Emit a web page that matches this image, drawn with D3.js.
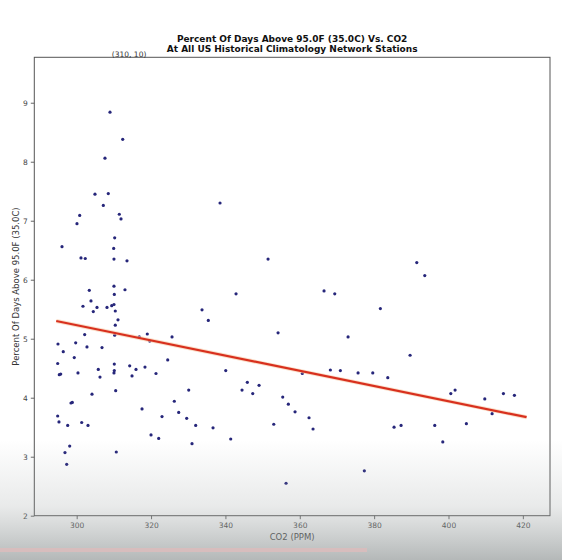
<!DOCTYPE html>
<html>
<head>
<meta charset="utf-8">
<script src="https://cdn.jsdelivr.net/npm/d3@7"></script>
<style>
  body { margin: 0; background: #fff; }
  svg { display: block; font-family: "DejaVu Sans", sans-serif; }
</style>
</head>
<body>
<svg id="chart" width="562" height="560"></svg>
<script>
// data
var co2 = [308.96, 312.38, 307.61, 304.92, 308.50, 307.16, 300.81, 300.08, 311.46, 311.92,
  310.22, 296.05, 309.95, 301.16, 302.31, 310.03, 313.53, 303.39, 310.03, 310.12,
  312.99, 303.85, 301.69, 305.46, 304.47, 308.15, 309.42, 310.03, 310.38, 311.11,
  310.38, 302.15, 310.22, 316.84, 318.99, 294.97, 299.73, 302.77, 306.81, 296.39,
  299.35, 294.89, 310.12, 314.26, 315.95, 318.37, 295.70, 295.32, 300.35, 305.81,
  310.12, 310.03, 306.27, 314.88, 304.12, 310.49, 298.82, 298.47, 317.57, 294.89,
  295.24, 297.58, 301.35, 303.04, 298.12, 296.85, 310.65, 297.31, 338.55, 351.47,
  342.86, 333.71, 335.40, 325.64, 319.64, 354.16, 324.48, 321.33, 340.09, 345.90,
  349.05, 344.47, 347.35, 330.13, 326.26, 327.44, 322.95, 329.59, 332.01, 336.67,
  353.00, 319.99, 322.06, 331.02, 341.43, 391.47, 366.53, 369.41, 381.68, 372.99,
  389.67, 368.23, 370.92, 375.68, 379.63, 383.67, 360.69, 355.42, 356.93, 358.73,
  362.49, 363.57, 385.36, 387.25, 377.37, 356.31, 393.62, 400.62, 401.77, 409.76,
  414.77, 417.73, 411.73, 396.31, 404.81, 398.46];
var pctDays = [8.84, 8.38, 8.06, 7.45, 7.46, 7.26, 7.09, 6.95, 7.11, 7.03,
  6.71, 6.56, 6.53, 6.37, 6.36, 6.35, 6.32, 5.82, 5.89, 5.75,
  5.83, 5.64, 5.55, 5.53, 5.46, 5.53, 5.56, 5.58, 5.47, 5.32,
  5.23, 5.07, 5.06, 5.03, 5.08, 4.91, 4.93, 4.86, 4.85, 4.78,
  4.68, 4.58, 4.57, 4.54, 4.48, 4.52, 4.40, 4.39, 4.42, 4.48,
  4.46, 4.42, 4.35, 4.37, 4.06, 4.12, 3.92, 3.91, 3.81, 3.69,
  3.59, 3.53, 3.58, 3.53, 3.18, 3.07, 3.08, 2.87, 7.30, 6.35,
  5.76, 5.49, 5.31, 5.03, 4.96, 5.10, 4.64, 4.41, 4.46, 4.26,
  4.21, 4.13, 4.07, 4.13, 3.94, 3.75, 3.68, 3.65, 3.53, 3.49,
  3.55, 3.37, 3.31, 3.22, 3.30, 6.29, 5.81, 5.76, 5.51, 5.03,
  4.72, 4.47, 4.46, 4.42, 4.42, 4.34, 4.41, 4.01, 3.89, 3.76,
  3.66, 3.47, 3.50, 3.53, 2.76, 2.55, 6.07, 4.07, 4.13, 3.98,
  4.07, 4.04, 3.73, 3.53, 3.56, 3.25];
var fitX = [294.5, 421.0];
var fitY = [5.30, 3.67];
var xTicks = [300, 320, 340, 360, 380, 400, 420];
var yTicks = [2, 3, 4, 5, 6, 7, 8, 9];
var titleLines = ["Percent Of Days Above 95.0F (35.0C) Vs. CO2",
  "At All US Historical Climatology Network Stations"];

(function () {
  var svg = d3.select("#chart");
  var pl = 34.3, pr = 550, pt = 57.3, pb = 515.7;

  var x = d3.scaleLinear().domain([288.6, 427.3]).range([pl, pr]);
  var y = d3.scaleLinear().domain([2, 9.77]).range([pb, pt]);

  var defs = svg.append("defs");
  var grad = defs.append("linearGradient").attr("id", "fade")
    .attr("x1", 0).attr("y1", 0).attr("x2", 0).attr("y2", 1);
  grad.append("stop").attr("offset", "0%").attr("stop-color", "#9aa0a0").attr("stop-opacity", 0);
  grad.append("stop").attr("offset", "55%").attr("stop-color", "#9aa0a0").attr("stop-opacity", 0.22);
  grad.append("stop").attr("offset", "100%").attr("stop-color", "#8c9292").attr("stop-opacity", 0.65);

  // title
  svg.append("g").selectAll("text").data(titleLines).enter().append("text")
    .attr("x", (pl + pr) / 2)
    .attr("y", function (d, i) { return 42 + i * 10; })
    .attr("text-anchor", "middle")
    .style("font-size", "9px")
    .style("font-weight", "bold")
    .style("fill", "#111")
    .text(function (d) { return d; });

  // axes
  var xAxis = d3.axisBottom(x).tickValues(xTicks).tickSize(3.5).tickPadding(3);
  var yAxis = d3.axisLeft(y).tickValues(yTicks).tickSize(3.5).tickPadding(3);

  var gx = svg.append("g").attr("transform", "translate(0," + pb + ")").call(xAxis);
  var gy = svg.append("g").attr("transform", "translate(" + pl + ",0)").call(yAxis);
  [gx, gy].forEach(function (g) {
    g.select(".domain").remove();
    g.selectAll(".tick line").attr("stroke", "#666");
    g.selectAll(".tick text").style("font-size", "7.5px").style("fill", "#444")
      .style("font-family", "DejaVu Sans, sans-serif");
  });

  svg.append("text")
    .attr("x", (pl + pr) / 2).attr("y", 540)
    .attr("text-anchor", "middle")
    .style("font-size", "8.5px").style("fill", "#333")
    .text("CO2 (PPM)");

  svg.append("text")
    .attr("transform", "translate(19," + ((pt + pb) / 2) + ") rotate(-90)")
    .attr("text-anchor", "middle")
    .style("font-size", "8.5px").style("fill", "#333")
    .text("Percent Of Days Above 95.0F (35.0C)");

  // points
  svg.append("g").selectAll("circle").data(co2).enter().append("circle")
    .attr("cx", function (d) { return x(d); })
    .attr("cy", function (d, i) { return y(pctDays[i]); })
    .attr("r", 1.6)
    .attr("fill", "#26267a");

  // fit line
  var line = d3.line()
    .x(function (d) { return x(d); })
    .y(function (d, i) { return y(fitY[i]); });
  svg.append("path").datum(fitX).attr("d", line)
    .attr("fill", "none").attr("stroke", "#f6c9a6").attr("stroke-width", 4).attr("opacity", 0.6);
  svg.append("path").datum(fitX).attr("d", line)
    .attr("fill", "none").attr("stroke", "#d8301e").attr("stroke-width", 2.2);

  // frame
  svg.append("rect")
    .attr("x", pl).attr("y", pt)
    .attr("width", pr - pl).attr("height", pb - pt)
    .attr("fill", "none").attr("stroke", "#555").attr("stroke-width", 1);

  // annotation
  svg.append("text")
    .attr("x", x(310) - 2).attr("y", pt - 0.5)
    .style("font-size", "7.5px").style("fill", "#333")
    .text("(310, 10)");

  // video overlay at the bottom
  svg.append("rect").attr("x", 0).attr("y", 440).attr("width", 562).attr("height", 120)
    .attr("fill", "url(#fade)");
  svg.append("rect").attr("x", 0).attr("y", 548).attr("width", 367).attr("height", 4)
    .attr("fill", "#d9bcbc").attr("opacity", 0.9);
})();
</script>
</body>
</html>
